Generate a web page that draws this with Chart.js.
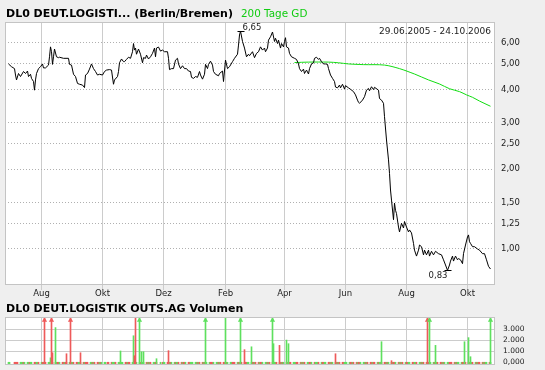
<!DOCTYPE html>
<html>
<head>
<meta charset="utf-8">
<script src="https://cdn.jsdelivr.net/npm/chart.js@4.4.0/dist/chart.umd.min.js"></script>
<style>
body{margin:0;background:#efefef;width:545px;height:370px;overflow:hidden;position:relative;font-family:"DejaVu Sans",sans-serif;}
canvas{position:absolute;left:0;}
#main{top:0;}
#vol{top:300px;}
.t{position:absolute;left:6px;font-size:11px;line-height:11px;white-space:nowrap;color:#000;z-index:2;}
#range{position:absolute;right:54px;top:27px;font-size:9px;line-height:9px;color:#222;z-index:2;}
</style>
</head>
<body>
<canvas id="main" width="545" height="300"></canvas>
<canvas id="vol" width="545" height="70"></canvas>
<div class="t" style="top:8px"><b>DL0 DEUT.LOGISTI... (Berlin/Bremen)</b><span style="color:#11cc11;margin-left:8px;font-size:10.4px">200 Tage GD</span></div>
<div id="range">29.06.2005 - 24.10.2006</div>
<div class="t" style="top:303px"><b>DL0 DEUT.LOGISTIK OUTS.AG Volumen</b></div>
<script>
// days counted from 29.06.2005
var priceDays = [0,3,6,7,8,10,12,15,17,19,20,22,23,25,26,27,28,30,32,34,35,37,40,41,42,43,44,45,46,48,50,51,55,60,61,63,65,67,69,71,74,76,77,79,81,83,85,87,89,91,94,96,98,101,103,105,106,109,110,111,113,115,116,118,120,
  122,124,125,126,127,128,130,132,134,135,137,138,140,142,144,146,147,148,150,152,154,156,159,160,161,163,165,167,169,170,172,174,176,178,180,182,183,185,187,189,191,192,194,196,197,199,200,202,204,205,207,210,211,214,215,217,219,221,224,226,229,230,231,232,234,236,238,240,
  241,244,246,248,250,252,254,256,257,259,260,262,264,266,267,269,270,272,273,275,276,277,278,280,281,283,286,288,290,291,293,295,296,298,300,301,303,305,306,308,310,311,313,315,317,319,320,322,324,326,327,329,331,332,334,336,337,340,342,345,347,349,350,
  351,354,356,358,360,361,363,365,366,370,371,373,375,376,378,380,381,382,383,385,386,387,388,390,391,393,395,396,398,400,401,403,405,406,408,410,411,413,415,416,418,420,421,423,425,427,430,433,435,437,439,441,442,444,445,447,449,450,452,454,455,457,459,460,461,462,464,466,469,471,474,476,478,480,482];
var priceValues = [5.00,4.88,4.80,4.54,4.35,4.60,4.48,4.68,4.60,4.70,4.48,4.57,4.41,4.29,3.98,4.35,4.60,4.80,4.88,5.00,4.83,4.83,4.95,5.32,5.80,5.56,4.98,5.32,5.69,5.32,5.28,5.30,5.25,5.25,4.98,4.95,4.57,4.48,4.22,4.19,4.16,4.07,4.54,4.60,4.78,5.00,4.80,4.68,4.54,4.57,4.54,4.68,4.74,4.76,4.74,4.19,4.35,4.48,4.68,5.05,5.22,5.10,5.10,5.20,5.30,
  5.25,5.56,5.97,5.64,5.74,5.44,5.69,5.44,5.05,5.28,5.25,5.40,5.22,5.32,5.48,5.74,5.32,5.74,5.79,5.59,5.64,5.56,5.56,5.25,4.76,4.80,4.80,5.17,5.25,5.00,4.80,4.92,4.80,4.80,4.70,4.68,4.45,4.41,4.48,4.45,4.68,4.54,4.38,4.57,4.98,4.80,4.98,5.12,4.95,4.68,4.57,4.51,4.60,4.70,4.29,5.17,4.80,4.88,5.10,5.25,5.44,5.89,6.43,6.65,6.08,5.74,5.32,5.44,
  5.37,5.56,5.28,5.48,5.56,5.80,5.64,5.74,5.56,5.74,6.15,6.33,6.60,6.08,6.25,5.97,6.15,5.74,5.97,5.80,6.08,6.28,5.80,5.74,5.48,5.32,5.25,5.20,5.00,4.80,4.68,4.78,4.60,4.74,4.58,4.80,5.00,5.05,5.25,5.30,5.20,5.25,5.10,5.00,5.00,4.98,4.80,4.54,4.41,4.29,4.09,4.06,4.16,4.06,4.19,4.02,4.14,4.06,4.01,3.93,3.82,3.65,3.58,
  3.55,3.65,3.76,3.98,4.04,3.96,4.10,4.00,4.08,3.98,3.70,3.65,3.55,3.16,2.58,2.17,1.93,1.67,1.53,1.29,1.49,1.40,1.36,1.21,1.16,1.25,1.20,1.27,1.21,1.16,1.18,1.15,1.05,0.99,0.94,0.99,1.035,1.02,0.95,0.99,0.95,0.99,0.94,0.98,0.95,0.98,0.96,0.95,0.91,0.87,0.83,0.87,0.90,0.94,0.90,0.94,0.91,0.92,0.91,0.88,0.96,1.035,1.11,1.13,1.065,1.05,1.02,1.02,1.00,0.99,0.96,0.96,0.91,0.86,0.84];

var gdDays = [286,300,320,330,340,355,376,391,406,420,431,441,451,458,464,471,482];
var gdValues = [5.06,5.08,5.08,5.05,5.00,4.97,4.95,4.80,4.58,4.35,4.20,4.03,3.93,3.82,3.74,3.62,3.46];

var monthDays = [33,94,155,217,276,337,398,459];
var monthLabels = ['Aug','Okt','Dez','Feb','Apr','Jun','Aug','Okt'];
var priceTicks = [1,1.25,1.5,2,2.5,3,4,5,6];
var maxPoint = {day:232, value:6.65};
var minPoint = {day:439, value:0.83};

// volume spikes (values above the axis max get an arrow)
var volDays   = [36,42,43,44,47,58,62,72,112,125,126,127,131,133,135,148,160,197,217,232,236,243,264,265,271,278,280,327,373,383,419,421,427,456,460,462,482];
var volValues = [6000,400,6000,860,3140,770,6000,860,1020,2400,590,4080,6000,950,950,320,1050,6000,4080,6000,1140,1400,6000,1680,1530,2010,1680,770,1860,140,6000,6000,1530,1860,2230,500,6000];
var volColors = ['r','g','r','r','g','r','r','r','g','g','r','r','g','g','g','g','r','g','g','g','r','g','g','g','r','g','g','r','g','r','r','g','g','g','g','g','g'];
var volTicks = [0,1000,2000,3000];
var volTickLabels = ['0,000','1.000','2.000','3.000'];

// small daily volume stubs, one string per week (Mon..Fri), first Monday = 27.06.2005
var stubWeeks = ['..gg.','.rrrr','gggrg','ggrgg','rrggr','grrgr','ggrrg','rgrrg','rrgrr','grggr','rrggg','rgrrr','ggrgr','rrgrg','gg.rr','rgggr','ggrgg','rrgrr','ggrgg','grrgg',
  'rgrgr','ggrr.','g.rgg','rrgrg','grggr','rgrrg','rrggg','ggrgr','rgrgg','grrrg','ggrgr','rrgrg','ggrrr','grgrr','rrrgg','grrgr','rgrrg','ggrgr','rrggr','grgrg',
  'rrgrr','gggrr','rgrgr','ggrrg','rgggr','grrgg','rrgrg','ggrgr','rrggg','grrgr','rgrrg','ggrgr','rrgrr','grggr','rrgrg','ggrrg','rgrgr','grrgg','rrggr','ggrgr',
  'rgrrg','grggr','rrgrg','ggrrr','rgrgg','grrgr','rrggr','grgrr','rgrgg','rg...'];
var stubFirstMonday = -2;

var RED = '#ee5a5a', GREEN = '#5ee05e';
var FONT = '"DejaVu Sans", sans-serif';
var X_MIN = -3.5, X_MAX = 486.5;
var VOL_MIN = -250, VOL_MAX = 4100;

function fmt(v){ return v.toFixed(2).replace('.', ','); }

var framePlugin = {
  id: 'frame',
  beforeDraw: function(chart){
    var a = chart.chartArea, ctx = chart.ctx;
    ctx.save();
    ctx.fillStyle = '#ffffff';
    ctx.fillRect(a.left, a.top, a.right - a.left, a.bottom - a.top);
    ctx.restore();
  },
  afterDraw: function(chart){
    var a = chart.chartArea, ctx = chart.ctx;
    ctx.save();
    ctx.strokeStyle = '#c4c4c4';
    ctx.lineWidth = 1;
    ctx.strokeRect(a.left + 0.5, a.top + 0.5, a.right - a.left - 1, a.bottom - a.top - 1);
    ctx.restore();
  }
};

var extremesPlugin = {
  id: 'extremes',
  afterDatasetsDraw: function(chart){
    var ctx = chart.ctx, x = chart.scales.x, y = chart.scales.y;
    ctx.save();
    ctx.strokeStyle = '#000';
    ctx.lineWidth = 1;
    ctx.fillStyle = '#222';
    ctx.font = '8.5px ' + FONT;
    var px = x.getPixelForValue(maxPoint.day), py = Math.round(y.getPixelForValue(maxPoint.value)) + 0.5;
    ctx.beginPath(); ctx.moveTo(px - 3, py); ctx.lineTo(px + 4, py); ctx.stroke();
    ctx.textAlign = 'left'; ctx.textBaseline = 'alphabetic';
    ctx.fillText(fmt(maxPoint.value), px + 2, py - 2);
    px = x.getPixelForValue(minPoint.day); py = Math.round(y.getPixelForValue(minPoint.value)) + 0.5;
    ctx.beginPath(); ctx.moveTo(px - 3, py); ctx.lineTo(px + 4, py); ctx.stroke();
    ctx.textAlign = 'right'; ctx.textBaseline = 'top';
    ctx.fillText(fmt(minPoint.value), px, py + 1.5);
    ctx.restore();
  }
};

function monthTicks(s){ s.ticks = monthDays.map(function(v){ return {value: v}; }); }
function fitX(h){ return function(s){ s.height = h; s.paddingLeft = 0; s.paddingRight = 0; s.paddingTop = 0; s.paddingBottom = 0; }; }
function fitY(s){ s.width = 50; s.paddingTop = 0; s.paddingBottom = 0; s.paddingLeft = 0; s.paddingRight = 0; }

new Chart(document.getElementById('main').getContext('2d'), {
  type: 'line',
  data: {
    datasets: [
      {
        label: 'Kurs',
        data: priceDays.map(function(d, i){ return {x: d, y: priceValues[i]}; }),
        borderColor: '#000000', borderWidth: 1, pointRadius: 0, tension: 0
      },
      {
        label: '200 Tage GD',
        data: gdDays.map(function(d, i){ return {x: d, y: gdValues[i]}; }),
        borderColor: '#11dd11', borderWidth: 1, pointRadius: 0, tension: 0.3
      }
    ]
  },
  options: {
    responsive: false,
    animation: false,
    layout: {padding: {left: 5, top: 22, right: 0, bottom: 0}},
    plugins: {legend: {display: false}, tooltip: {enabled: false}},
    scales: {
      x: {
        type: 'linear', min: X_MIN, max: X_MAX,
        afterBuildTicks: monthTicks,
        afterFit: fitX(15),
        grid: {color: '#cccccc', tickLength: 5},
        border: {display: false},
        ticks: {
          callback: function(v, i){ return monthLabels[i]; },
          font: {family: FONT, size: 8.5}, color: '#222', padding: -1, maxRotation: 0, autoSkip: false
        }
      },
      y: {
        type: 'logarithmic', position: 'right', min: 0.731, max: 7.2, bounds: 'data',
        afterBuildTicks: function(s){ s.ticks = priceTicks.map(function(v){ return {value: v}; }); },
        afterFit: fitY,
        grid: {color: '#b0b0b0', drawTicks: false},
        border: {display: false, dash: [1, 2]},
        ticks: {
          callback: function(v){ return fmt(v); },
          font: {family: FONT, size: 8.5}, color: '#222', padding: 6
        }
      }
    }
  },
  plugins: [framePlugin, extremesPlugin]
});

var stubData = [], stubCols = [];
stubWeeks.forEach(function(w, wi){
  for (var k = 0; k < 5; k++) {
    var c = w.charAt(k), d = stubFirstMonday + wi * 7 + k;
    if (c === '.' || d < 0 || d > 482) continue;
    stubData.push({x: d, y: 0});
    stubCols.push(c === 'r' ? RED : GREEN);
  }
});

var spikeData = volDays.map(function(d, i){ return {x: d, y: volValues[i]}; });
var spikeCols = volColors.map(function(c){ return c === 'r' ? RED : GREEN; });
var arrowData = [], arrowCols = [];
volDays.forEach(function(d, i){
  if (volValues[i] > VOL_MAX) {
    arrowData.push({x: d, y: VOL_MAX * 0.93});
    arrowCols.push(spikeCols[i]);
  }
});

new Chart(document.getElementById('vol').getContext('2d'), {
  type: 'bar',
  data: {
    datasets: [
      {type: 'line', data: arrowData, showLine: false, pointStyle: 'triangle', pointRadius: 3,
       pointBackgroundColor: arrowCols, pointBorderColor: arrowCols, pointBorderWidth: 0, clip: false},
      {data: spikeData, backgroundColor: spikeCols, barThickness: 1, base: VOL_MIN, grouped: false},
      {data: stubData, backgroundColor: stubCols, barThickness: 1, base: VOL_MIN, grouped: false}
    ]
  },
  options: {
    responsive: false,
    animation: false,
    layout: {padding: {left: 5, top: 17, right: 0, bottom: 0}},
    plugins: {legend: {display: false}, tooltip: {enabled: false}},
    scales: {
      x: {
        type: 'linear', min: X_MIN, max: X_MAX, offset: false,
        afterBuildTicks: monthTicks,
        afterFit: fitX(5),
        grid: {color: '#cccccc', drawTicks: false, offset: false},
        border: {display: false},
        ticks: {display: false}
      },
      y: {
        type: 'linear', position: 'right', min: VOL_MIN, max: VOL_MAX,
        afterBuildTicks: function(s){ s.ticks = volTicks.map(function(v){ return {value: v}; }); },
        afterFit: fitY,
        grid: {color: function(c){ return c.tick && c.tick.value === 0 ? 'rgba(0,0,0,0)' : '#cccccc'; }, drawTicks: false},
        border: {display: false},
        ticks: {
          callback: function(v, i){ return volTickLabels[i]; },
          font: {family: FONT, size: 7.5}, color: '#222', padding: 8
        }
      }
    }
  },
  plugins: [framePlugin]
});
</script>
</body>
</html>
